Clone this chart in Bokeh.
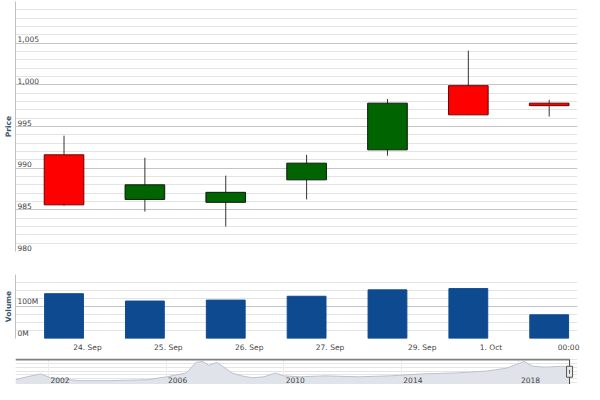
from bokeh.plotting import figure
from bokeh.layouts import column
from bokeh.models import Range1d, FixedTicker, Grid
from bokeh.core.properties import value
from bokeh.embed import file_html
from bokeh.resources import INLINE

# ---------------- data ----------------
days = [0, 1, 2, 3, 4, 5, 6]  # ordinal trading-day positions
opens = [991.6, 986.25, 985.9, 988.6, 992.2, 999.9, 997.8]
highs = [993.9, 991.25, 989.1, 991.6, 998.3, 1004.1, 998.2]
lows = [985.5, 984.8, 983.0, 986.25, 991.5, 996.4, 996.2]
closes = [985.6, 988.0, 987.1, 990.6, 997.8, 996.4, 997.5]
volumes = [140e6, 117e6, 120e6, 132e6, 152e6, 156e6, 74e6]

date_labels = ["24. Sep", "25. Sep", "26. Sep", "27. Sep", "29. Sep", "1. Oct", "00:00"]
date_ticks = [0.29, 1.29, 2.29, 3.29, 4.43, 5.28, 6.24]

price_major = [980, 985, 990, 995, 1000, 1005, 1010]
price_minor = [v for v in range(980, 1011) if v % 5]
price_label_vals = [980, 985, 990, 995, 1000, 1005]
price_labels = ["980", "985", "990", "995", "1,000", "1,005"]

vol_major = [0, 100e6, 200e6]
vol_minor = [25e6, 50e6, 75e6, 125e6, 150e6, 175e6]
vol_label_vals = [0, 100e6]
vol_labels = ["0M", "100M"]

nav_years = [2000.88, 2001.27, 2001.74, 2002.07, 2003.06, 2004.05, 2005.37, 2006.03,
             2006.69, 2007.02, 2007.25, 2007.45, 2007.74, 2008.01, 2008.24, 2008.57,
             2008.93, 2009.33, 2009.72, 2009.99, 2010.55, 2011.41, 2012.53, 2013.62,
             2014.71, 2015.83, 2016.92, 2017.58, 2018.01, 2018.17, 2018.47, 2018.90,
             2019.46, 2019.72]
nav_values = [475, 550, 625, 525, 450, 450, 475, 550,
              650, 925, 950, 850, 925, 775, 650, 575,
              525, 550, 650, 575, 550, 575, 550, 575,
              625, 650, 700, 775, 900, 950, 825, 800,
              825, 800]
year_ticks = [2002, 2006, 2010, 2014, 2018]
year_labels = ["2002", "2006", "2010", "2014", "2018"]

# ---------------- styling ----------------
FONT = "DejaVu Sans"
LBL = "#444444"
TITLE = "#3e576f"
W = 584
XR = Range1d(-0.6, 6.35)


def base(height, yr, top, bottom, xr=XR, xloc=None, yloc="left"):
    p = figure(width=W, height=height, x_range=xr, y_range=yr,
               output_backend="svg", toolbar_location=None,
               x_axis_location=xloc, y_axis_location=yloc,
               min_border_left=14, min_border_right=7,
               min_border_top=top, min_border_bottom=bottom)
    p.outline_line_color = None
    p.background_fill_color = "white"
    p.border_fill_color = "white"
    for g in p.xgrid:
        g.visible = False
    return p


def style_yaxis(p, title, major, minor):
    ax = p.yaxis[0]
    ax.ticker = FixedTicker(ticks=[])
    ax.axis_line_color = "#c0c0c0"
    ax.major_tick_out = 0
    ax.major_tick_in = 0
    ax.minor_tick_out = 0
    ax.minor_tick_in = 0
    ax.major_label_standoff = 0
    ax.axis_label = title
    ax.axis_label_standoff = 3
    ax.axis_label_text_font = FONT
    ax.axis_label_text_font_size = "7.5px"
    ax.axis_label_text_font_style = "bold"
    ax.axis_label_text_color = TITLE
    g = p.ygrid[0]
    g.ticker = FixedTicker(ticks=major, minor_ticks=minor)
    g.grid_line_color = "#c4c4c4"
    g.minor_grid_line_color = "#e4e4e4"


# ---------------- price pane ----------------
p1 = base(252, Range1d(980, 1010), 1, 1)
style_yaxis(p1, "Price", price_major, price_minor)
p1.text(x=[XR.start] * len(price_labels), y=price_label_vals, text=price_labels,
        x_offset=2, y_offset=-1, text_baseline="bottom", text_align="left",
        text_font=value(FONT), text_font_size="7.5px", text_color=LBL)

p1.segment(days, highs, days, lows, line_color="#333333", line_width=1)
up = [i for i in days if closes[i] >= opens[i]]
dn = [i for i in days if closes[i] < opens[i]]
p1.vbar(x=up, width=0.49, bottom=[opens[i] for i in up], top=[closes[i] for i in up],
        fill_color="#006400", line_color="#0a1a0a", line_width=1)
p1.vbar(x=dn, width=0.49, top=[opens[i] for i in dn], bottom=[closes[i] for i in dn],
        fill_color="#ff0000", line_color="#6b0000", line_width=1)

# ---------------- volume pane ----------------
p2 = base(104, Range1d(0, 200e6), 22, 18, xloc="below")
style_yaxis(p2, "Volume", vol_major, vol_minor)
xa = p2.xaxis[0]
xa.ticker = FixedTicker(ticks=date_ticks)
xa.major_label_overrides = {t: l for t, l in zip(date_ticks, date_labels)}
xa.axis_line_color = None
xa.major_tick_out = 0
xa.major_tick_in = 0
xa.minor_tick_out = 0
xa.minor_tick_in = 0
xa.major_label_standoff = 4
xa.major_label_text_font = FONT
xa.major_label_text_font_size = "7.5px"
xa.major_label_text_color = LBL
p2.text(x=[XR.start] * len(vol_labels), y=vol_label_vals, text=vol_labels,
        x_offset=2, y_offset=-1, text_baseline="bottom", text_align="left",
        text_font=value(FONT), text_font_size="7.5px", text_color=LBL)
p2.vbar(x=days, width=0.48, top=volumes, bottom=0,
        fill_color="#0e4a8f", line_color="#0e4a8f")

# ---------------- navigator ----------------
NAV_TOP = 1000
p3 = base(28, Range1d(350, 1026), 2, 0, xr=Range1d(2000.88, 2019.99), xloc=None, yloc=None)
p3.add_layout(Grid(dimension=0, ticker=FixedTicker(ticks=year_ticks),
                   grid_line_color="#ececec"))
p3.varea(x=nav_years, y1=0, y2=nav_values, fill_color="#e0e4ea")
p3.line(nav_years, nav_values, line_color="#bcc2cc", line_width=1)
p3.text(x=year_ticks, y=[475] * len(year_ticks), text=year_labels,
        x_offset=2, text_baseline="middle", text_align="left",
        text_font=value(FONT), text_font_size="7.5px", text_color=LBL)
hx = nav_years[-1]
p3.segment(x0=[2000.88], y0=[NAV_TOP], x1=[hx], y1=[NAV_TOP],
           line_color="#808080", line_width=2)
p3.segment(x0=[hx], y0=[350], x1=[hx], y1=[NAV_TOP], line_color="#444444", line_width=1)
p3.rect(x=[hx], y=[682], width=6, height=11, width_units="screen", height_units="screen",
        fill_color="#ebe7e8", line_color="#555555")
p3.segment(x0=[hx], y0=[630], x1=[hx], y1=[730], line_color="#555555", line_width=1)

layout = column(p1, p2, p3)
open("out.html", "w").write(file_html(layout, INLINE))
